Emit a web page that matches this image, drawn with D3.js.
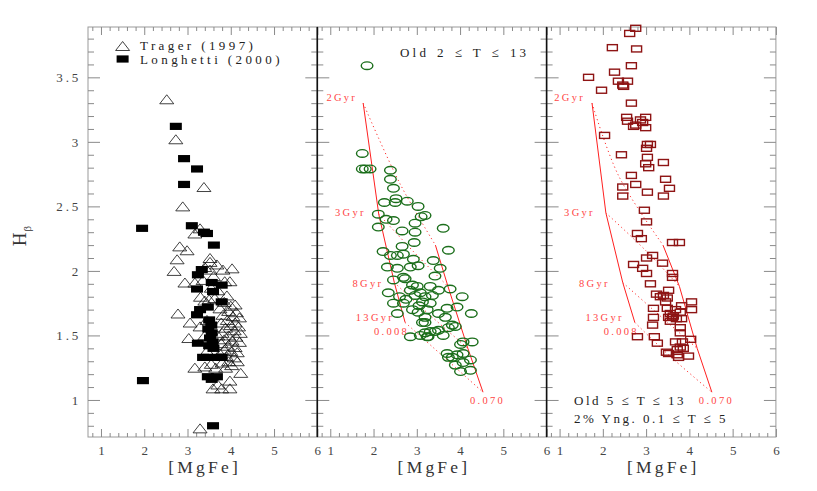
<!DOCTYPE html>
<html><head><meta charset="utf-8">
<script src="https://cdn.jsdelivr.net/npm/d3@7"></script>
<style>
body{margin:0;background:#fff;}
text{font-family:"Liberation Serif",serif;}
</style></head>
<body><svg id="c" width="817" height="491"></svg>
<script>
// ---------- DATA ----------
const xTicks=[1,2,3,4,5,6];
const yTicks=[1,1.5,2,2.5,3,3.5];
const yTickLabels=["1","1.5","2","2.5","3","3.5"];
const xLabel="[MgFe]";
const legendLabels=["Trager (1997)","Longhetti (2000)"];

const trager=[[2.52,3.33],[2.73,3.02],[3.38,2.65],[2.89,2.50],[3.29,2.33],[3.17,2.29],[2.82,2.19],[2.99,2.16],[2.76,2.09],[3.52,2.10],[2.69,2.00],[3.52,2.07],[3.68,2.05],[3.82,2.01],[4.03,2.02],[3.52,2.01],[3.40,2.03],[3.86,1.92],[2.94,1.91],[3.17,1.91],[3.36,1.93],[3.98,1.92],[3.60,1.96],[3.40,1.77],[3.91,1.81],[3.50,1.78],[3.63,1.79],[3.85,1.76],[4.00,1.73],[4.10,1.74],[3.75,1.71],[3.95,1.69],[4.13,1.68],[3.82,1.66],[4.05,1.65],[4.20,1.64],[3.92,1.62],[4.10,1.60],[3.78,1.60],[4.00,1.58],[4.18,1.57],[3.88,1.56],[4.08,1.54],[3.80,1.52],[4.22,1.52],[3.95,1.50],[4.12,1.49],[3.85,1.47],[4.03,1.46],[4.20,1.45],[3.78,1.44],[3.93,1.42],[4.10,1.41],[3.85,1.39],[4.00,1.38],[4.15,1.37],[3.75,1.36],[3.90,1.34],[4.08,1.33],[3.95,1.30],[4.15,1.30],[3.80,1.29],[4.02,1.27],[3.88,1.25],[2.78,1.67],[3.06,1.60],[3.03,1.48],[3.29,1.57],[3.17,1.25],[3.40,1.26],[3.55,1.28],[3.65,1.25],[4.23,1.21],[3.98,1.15],[3.59,1.09],[3.79,1.09],[3.98,1.09],[3.70,1.12],[3.29,0.78],[3.30,1.80],[3.45,1.62],[3.40,1.50],[3.45,1.38],[3.70,1.50],[3.70,1.85],[3.55,1.87]];

const longhetti=[[2.73,3.12],[2.92,2.87],[3.22,2.79],[2.92,2.67],[3.10,2.35],[1.95,2.33],[3.38,2.30],[3.45,2.29],[3.61,2.20],[3.33,2.01],[3.24,1.97],[3.56,1.91],[3.79,1.89],[3.22,1.86],[3.59,1.84],[3.79,1.76],[3.29,1.70],[3.47,1.72],[3.22,1.66],[3.50,1.62],[3.55,1.58],[3.48,1.55],[3.56,1.52],[3.52,1.48],[3.58,1.45],[3.50,1.42],[3.60,1.40],[3.24,1.44],[3.36,1.33],[3.45,1.33],[3.68,1.33],[3.79,1.33],[3.47,1.18],[3.56,1.16],[3.68,1.18],[1.97,1.15],[3.59,0.80]];

const oldModel=[[1.85,3.59],[1.74,2.91],[1.74,2.79],[1.81,2.79],[1.92,2.79],[2.39,2.78],[2.39,2.71],[2.46,2.64],[2.25,2.53],[2.52,2.56],[2.50,2.53],[2.78,2.54],[3.03,2.50],[2.11,2.44],[3.19,2.43],[3.10,2.42],[2.29,2.40],[2.46,2.39],[2.96,2.37],[2.11,2.34],[3.61,2.33],[2.66,2.31],[2.96,2.30],[2.94,2.22],[2.66,2.19],[3.73,2.16],[2.22,2.15],[2.39,2.12],[2.55,2.12],[2.69,2.13],[2.92,2.09],[3.03,2.04],[2.85,2.03],[3.38,2.08],[2.32,2.03],[2.55,2.02],[3.54,2.02],[3.42,1.96],[2.46,1.93],[2.69,1.95],[2.73,1.94],[2.90,1.89],[3.01,1.88],[2.85,1.85],[3.31,1.88],[3.50,1.85],[3.77,1.86],[2.34,1.83],[2.60,1.80],[3.08,1.83],[3.19,1.80],[2.96,1.81],[3.36,1.81],[4.05,1.80],[2.46,1.75],[2.69,1.75],[3.13,1.76],[3.31,1.75],[3.70,1.71],[3.93,1.72],[2.55,1.67],[3.03,1.68],[3.24,1.70],[3.50,1.67],[4.26,1.67],[3.66,1.64],[3.19,1.64],[3.13,1.60],[3.19,1.60],[3.82,1.58],[3.89,1.57],[3.73,1.56],[2.85,1.49],[3.19,1.52],[3.31,1.53],[3.26,1.49],[3.42,1.53],[3.50,1.54],[3.61,1.50],[4.07,1.45],[4.28,1.45],[4.01,1.43],[3.70,1.36],[3.82,1.33],[3.93,1.35],[4.07,1.36],[4.24,1.31],[4.07,1.29],[3.89,1.27],[3.73,1.33],[4.01,1.22],[4.24,1.23],[3.08,1.50],[3.24,1.49],[2.75,1.78],[3.05,1.73],[2.90,1.70]];

const youngModel=[[2.76,3.88],[2.62,3.84],[2.22,3.73],[2.78,3.72],[2.66,3.59],[2.27,3.54],[1.67,3.50],[2.36,3.47],[2.57,3.47],[2.46,3.44],[2.48,3.43],[1.97,3.40],[2.66,3.30],[2.55,3.19],[2.57,3.16],[2.99,3.19],[2.87,3.17],[2.92,3.15],[2.71,3.12],[2.76,3.13],[2.99,3.11],[2.04,3.05],[3.03,2.98],[3.10,2.98],[3.01,2.95],[2.43,2.90],[3.03,2.88],[2.99,2.83],[3.06,2.80],[3.40,2.84],[2.66,2.74],[2.76,2.67],[2.46,2.65],[3.45,2.71],[3.54,2.64],[3.03,2.61],[2.46,2.58],[3.40,2.58],[2.96,2.47],[3.01,2.38],[2.80,2.29],[2.89,2.25],[3.61,2.22],[3.77,2.22],[3.15,2.12],[3.01,2.10],[3.38,2.06],[2.71,2.05],[2.92,2.02],[3.01,1.98],[3.61,1.98],[3.61,1.95],[3.10,1.90],[3.52,1.85],[3.24,1.82],[3.40,1.81],[3.49,1.79],[3.45,1.76],[4.05,1.76],[3.82,1.73],[4.05,1.70],[3.17,1.71],[3.49,1.71],[3.79,1.68],[3.56,1.67],[3.52,1.64],[3.61,1.64],[3.82,1.63],[3.70,1.63],[3.17,1.64],[3.15,1.58],[3.56,1.61],[3.79,1.56],[3.79,1.52],[2.80,1.49],[3.19,1.49],[3.26,1.44],[3.68,1.45],[3.84,1.45],[4.03,1.47],[3.79,1.41],[3.72,1.39],[3.86,1.40],[3.47,1.37],[3.52,1.36],[3.72,1.35],[3.98,1.34],[3.75,1.33],[3.33,1.80],[3.68,1.70],[3.63,1.65]];

// model grids: ages along low-Z (0.008) and high-Z (0.070) tracks, with an intermediate point
const gridAges=["2Gyr","3Gyr","8Gyr","13Gyr"];
const gridZ=["0.008","0.070"];
const oldLowZ=[[1.76,3.30],[2.12,2.44],[2.48,1.91],[2.73,1.60]];
const oldMidZ=[[2.62,2.67],[2.95,2.14],[3.16,1.70],[3.40,1.40]];
const oldHighZ=[[3.43,2.20],[3.72,1.88],[4.18,1.40],[4.53,1.06]];
const yngLowZ=[[1.75,3.30],[2.07,2.45],[2.46,1.91],[2.74,1.60]];
const yngMidZ=[[2.36,2.74],[3.00,2.155],[3.16,1.70],[3.55,1.34]];
const yngHighZ=[[3.39,2.20],[3.77,1.88],[4.18,1.40],[4.52,1.06]];

const panelText2="Old 2 \u2264 T \u2264 13";
const panelText3a="Old 5 \u2264 T \u2264 13";
const panelText3b="2% Yng. 0.1 \u2264 T \u2264 5";

// ---------- LAYOUT ----------
const svg=d3.select("#c");
const T0=27,B0=437,pw=229.3;
const lefts=[88,88+pw,88+2*pw];
const y=d3.scaleLinear().domain([0.713,3.89]).range([B0,T0]);
const xs=lefts.map(l=>d3.scaleLinear().domain([0.7,6]).range([l,l+pw]));
const majorY=yTicks;
const minorY=d3.range(8,39).map(d=>d/10).filter(v=>Math.abs(v*2-Math.round(v*2))>1e-6);
const minorX=d3.range(4,30).map(d=>d/5).filter(v=>v>0.7&&v<6&&Math.abs(v-Math.round(v))>1e-6);
const tickCol="#8a8a8a";

function styleAxis(g,ls){
  g.selectAll(".domain").remove();
  g.selectAll(".tick line").attr("stroke",tickCol);
  g.selectAll(".tick text").attr("font-family","Liberation Serif").attr("font-size",13).attr("fill","#444").attr("letter-spacing",ls||0);
  return g;
}

lefts.forEach((l,i)=>{
  const x=xs[i];
  const g=svg.append("g");
  g.append("rect").attr("x",l).attr("y",T0).attr("width",pw).attr("height",B0-T0)
   .attr("fill","none").attr("stroke","#9a9a9a").attr("stroke-width",1);
  styleAxis(g.append("g").attr("transform",`translate(${l},0)`)
    .call(d3.axisLeft(y).tickValues(majorY).tickSize(-12).tickPadding(7).tickFormat((d,j)=>i===0?yTickLabels[j]:"")),2.8);
  styleAxis(g.append("g").attr("transform",`translate(${l},0)`).call(d3.axisLeft(y).tickValues(minorY).tickSize(-6).tickFormat("")));
  styleAxis(g.append("g").attr("transform",`translate(${l+pw},0)`).call(d3.axisRight(y).tickValues(majorY).tickSize(-12).tickFormat("")));
  styleAxis(g.append("g").attr("transform",`translate(${l+pw},0)`).call(d3.axisRight(y).tickValues(minorY).tickSize(-6).tickFormat("")));
  styleAxis(g.append("g").attr("transform",`translate(0,${B0})`).call(d3.axisBottom(x).tickValues(xTicks).tickSize(-8).tickPadding(9).tickFormat(d3.format("d"))));
  styleAxis(g.append("g").attr("transform",`translate(0,${B0})`).call(d3.axisBottom(x).tickValues(minorX).tickSize(-4).tickFormat("")));
  styleAxis(g.append("g").attr("transform",`translate(0,${T0})`).call(d3.axisTop(x).tickValues(xTicks).tickSize(-8).tickFormat("")));
  styleAxis(g.append("g").attr("transform",`translate(0,${T0})`).call(d3.axisTop(x).tickValues(minorX).tickSize(-4).tickFormat("")));
  g.append("text").attr("x",l+pw/2+2).attr("y",473).attr("text-anchor","middle")
    .attr("font-size",17.5).attr("letter-spacing",3.2).attr("fill","#333").text(xLabel);
});
[1,2].forEach(i=>svg.append("line").attr("x1",lefts[i]).attr("x2",lefts[i]).attr("y1",T0).attr("y2",B0).attr("stroke","#111").attr("stroke-width",1.6));

// y label
const ylab=svg.append("text").attr("transform","translate(26,236) rotate(-90)").attr("text-anchor","middle").attr("fill","#333");
ylab.append("tspan").attr("font-size",19).text("H");
ylab.append("tspan").attr("font-size",11).attr("dy",5).attr("dx",1).text("\u03B2");

// ---------- PANEL 1 ----------
const tri="M0,-4.5L7,4.5L-7,4.5Z";
svg.append("g").selectAll("path").data(trager).join("path")
  .attr("transform",d=>`translate(${xs[0](d[0])},${y(d[1])})`).attr("d",tri)
  .attr("fill","none").attr("stroke","#111").attr("stroke-width",0.8);
svg.append("g").selectAll("rect").data(longhetti).join("rect")
  .attr("x",d=>xs[0](d[0])-6).attr("y",d=>y(d[1])-3.6).attr("width",12).attr("height",7.2).attr("fill","#000");
svg.append("path").attr("transform",`translate(${xs[0](1.5)},46)`).attr("d",tri).attr("fill","none").attr("stroke","#111").attr("stroke-width",0.8);
svg.append("rect").attr("x",xs[0](1.5)-6).attr("y",59-3.6).attr("width",12).attr("height",7.2).attr("fill","#000");
legendLabels.forEach((t,i)=>svg.append("text").attr("x",140).attr("y",50+i*13.5).attr("font-size",13).attr("letter-spacing",3.4).attr("fill","#222").text(t));

// ---------- grid drawing ----------
function drawGrid(x,low,mid,high,labelOffsets){
  const g=svg.append("g");
  const line=d3.line().x(d=>x(d[0])).y(d=>y(d[1]));
  g.append("path").attr("d",line(low)).attr("fill","none").attr("stroke","#ff2020").attr("stroke-width",1);
  g.append("path").attr("d",line(high)).attr("fill","none").attr("stroke","#ff2020").attr("stroke-width",1);
  const cl=d3.line().curve(d3.curveCatmullRom).x(d=>x(d[0])).y(d=>y(d[1]));
  low.forEach((p,i)=>{
    g.append("path").attr("d",cl([p,mid[i],high[i]])).attr("fill","none").attr("stroke","#ff3030")
      .attr("stroke-width",1).attr("stroke-dasharray","1.2,3");
  });
  const lab=t=>t.attr("fill","#ff4545").attr("font-size",10.5).attr("letter-spacing",2.3);
  gridAges.forEach((a,i)=>{
    const o=labelOffsets[i];
    lab(g.append("text").attr("x",x(low[i][0])+o[0]).attr("y",y(low[i][1])+o[1]).attr("text-anchor","end").text(a));
  });
  lab(g.append("text").attr("x",x(low[3][0])+4).attr("y",y(low[3][1])+12).attr("text-anchor","end").text(gridZ[0]));
  lab(g.append("text").attr("x",x(high[3][0])-13).attr("y",y(high[3][1])+12).attr("text-anchor","start").text(gridZ[1]));
}

// ---------- PANEL 2 ----------
drawGrid(xs[1],oldLowZ,oldMidZ,oldHighZ,[[-6,-2],[-13,2],[-11,4],[-11,-2]]);
svg.append("g").selectAll("ellipse").data(oldModel).join("ellipse")
  .attr("cx",d=>xs[1](d[0])).attr("cy",d=>y(d[1])).attr("rx",5.8).attr("ry",3.8)
  .attr("fill","none").attr("stroke","#1b6e1b").attr("stroke-width",1.4);
svg.append("text").attr("x",400).attr("y",57).attr("font-size",13).attr("letter-spacing",3.2).attr("word-spacing",1.5).attr("fill","#222").text(panelText2);

// ---------- PANEL 3 ----------
drawGrid(xs[2],yngLowZ,yngMidZ,yngHighZ,[[-7,-2],[-11,3],[-13,4],[-11,-2]]);
svg.append("g").selectAll("rect").data(youngModel).join("rect")
  .attr("x",d=>xs[2](d[0])-5).attr("y",d=>y(d[1])-3).attr("width",10).attr("height",6)
  .attr("fill","none").attr("stroke","#8e1414").attr("stroke-width",1.4);
svg.append("text").attr("x",574).attr("y",405).attr("font-size",13).attr("letter-spacing",2.5).attr("fill","#222").text(panelText3a);
svg.append("text").attr("x",574).attr("y",423).attr("font-size",13).attr("letter-spacing",2.5).attr("fill","#222").text(panelText3b);
</script></body></html>
